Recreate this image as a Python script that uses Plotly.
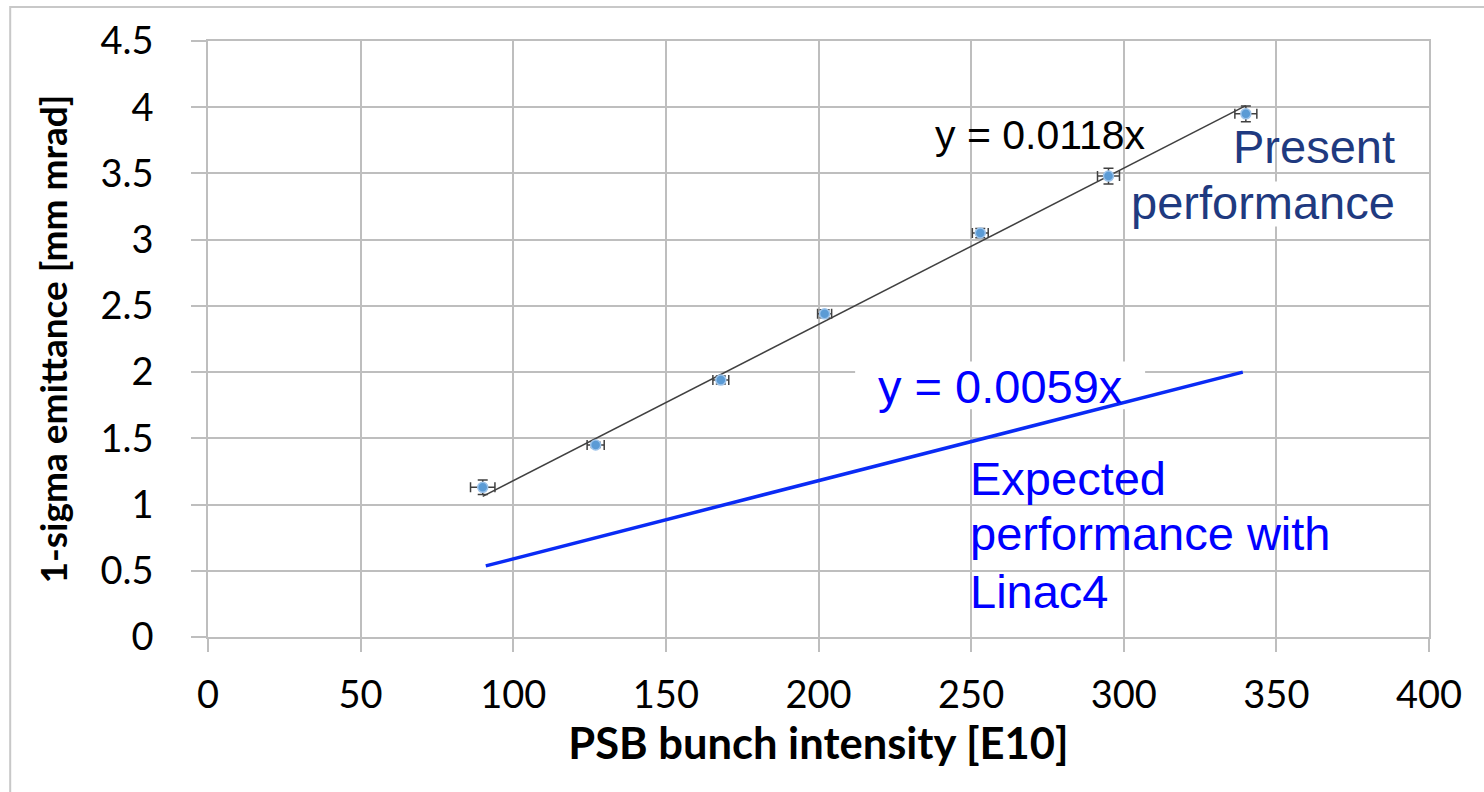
import plotly.graph_objects as go

# Measured points: PSB bunch intensity [E10] vs 1-sigma emittance [mm mrad]
intensity = [90, 127, 168, 202, 253, 295, 340]
emittance = [1.13, 1.45, 1.94, 2.44, 3.05, 3.48, 3.95]
intensity_err = [4.0, 2.8, 2.6, 2.3, 2.6, 3.6, 3.6]
emittance_err = [0.055, 0.02, 0.03, 0.03, 0.035, 0.06, 0.06]

# Linear fits through the origin
present_slope = 0.0118
present_range = [90, 340]
expected_slope = 0.0059
expected_range = [91, 339]

x_ticks = [0, 50, 100, 150, 200, 250, 300, 350, 400]
y_ticks = [0, 0.5, 1, 1.5, 2, 2.5, 3, 3.5, 4, 4.5]
y_tick_text = ["0", "0.5", "1", "1.5", "2", "2.5", "3", "3.5", "4", "4.5"]

GRID = "#BEBEBE"
TICK_FONT = dict(family="Lato, Carlito, sans-serif", size=38, color="#000000")
XTITLE_FONT = dict(family="Lato, Carlito, sans-serif", size=43.5, color="#000000", weight="bold")
YTITLE_FONT = dict(family="Lato, Carlito, sans-serif", size=37, color="#000000", weight="bold")
TEXT_FAMILY = "Liberation Sans, Arial, sans-serif"

fig = go.Figure()

# Present-performance fit line
fig.add_trace(go.Scatter(
    x=present_range,
    y=[present_slope * v for v in present_range],
    mode="lines",
    line=dict(color="#404040", width=1.5),
    hoverinfo="skip",
    showlegend=False,
))

# Expected performance with Linac4
fig.add_trace(go.Scatter(
    x=expected_range,
    y=[expected_slope * v for v in expected_range],
    mode="lines",
    line=dict(color="#0A2BF5", width=3.5),
    hoverinfo="skip",
    showlegend=False,
))

# Measurements with error bars
fig.add_trace(go.Scatter(
    x=intensity,
    y=emittance,
    mode="markers",
    marker=dict(size=10, color="#5B9BD5", line=dict(color="#9CC3EA", width=1.5)),
    error_x=dict(type="data", array=intensity_err, color="#404040", thickness=1.5, width=5),
    error_y=dict(type="data", array=emittance_err, color="#404040", thickness=1.5, width=5),
    showlegend=False,
))

annotations = [
    dict(x=237.5, y=3.79, text="y = 0.0118x", xanchor="left", yanchor="middle",
         font=dict(family=TEXT_FAMILY, size=41, color="#000000")),
    dict(x=259.5, y=1.895, text="y = 0.0059x", xanchor="center", yanchor="middle",
         font=dict(family=TEXT_FAMILY, size=47, color="#0000FF")),
    dict(x=389.5, y=3.70, text="Present", xanchor="right", yanchor="middle",
         font=dict(family=TEXT_FAMILY, size=47, color="#1F3A80")),
    dict(x=389.5, y=3.28, text="performance", xanchor="right", yanchor="middle",
         font=dict(family=TEXT_FAMILY, size=47, color="#1F3A80")),
    dict(x=249, y=1.20, text="Expected", xanchor="left", yanchor="middle",
         font=dict(family=TEXT_FAMILY, size=47, color="#0000FF")),
    dict(x=249, y=0.785, text="performance with", xanchor="left", yanchor="middle",
         font=dict(family=TEXT_FAMILY, size=47, color="#0000FF")),
    dict(x=249, y=0.34, text="Linac4", xanchor="left", yanchor="middle",
         font=dict(family=TEXT_FAMILY, size=47, color="#0000FF")),
]
for a in annotations:
    a.update(xref="x", yref="y", showarrow=False)

shapes = [
    # outer frame around the chart
    dict(type="rect", xref="paper", yref="paper",
         x0=-0.162, x1=1.2, y0=-0.4, y1=1.057,
         line=dict(color="#C8C8C8", width=2), layer="below"),
    # white boxes behind the fit labels, under the traces
    dict(type="rect", xref="x", yref="y", x0=212, x1=307, y0=1.72, y1=2.08,
         fillcolor="#FFFFFF", line=dict(width=0), layer="between"),
    dict(type="rect", xref="x", yref="y", x0=301, x1=392, y0=3.1, y1=3.44,
         fillcolor="#FFFFFF", line=dict(width=0), layer="between"),
]

fig.update_layout(
    width=1484,
    height=792,
    margin=dict(l=208, r=55, t=41, b=155),
    paper_bgcolor="#FFFFFF",
    plot_bgcolor="#FFFFFF",
    annotations=annotations,
    shapes=shapes,
    xaxis=dict(
        range=[0, 400], tickvals=x_ticks, ticktext=[str(v) for v in x_ticks],
        showgrid=True, gridcolor=GRID, gridwidth=1.5,
        showline=True, linecolor=GRID, linewidth=1.5, mirror=True,
        zeroline=False, ticks="outside", ticklen=13, tickcolor=GRID, tickwidth=1.5,
        tickfont=TICK_FONT, ticklabelstandoff=11,
        title=dict(text="PSB bunch intensity [E10]", font=XTITLE_FONT, standoff=13),
    ),
    yaxis=dict(
        range=[0, 4.5], tickvals=y_ticks, ticktext=y_tick_text,
        showgrid=True, gridcolor=GRID, gridwidth=1.5,
        showline=True, linecolor=GRID, linewidth=1.5, mirror=True,
        zeroline=False, ticks="outside", ticklen=15, tickcolor=GRID, tickwidth=1.5,
        tickfont=TICK_FONT, ticklabelstandoff=30,
        title=dict(text="1-sigma emittance [mm mrad]", font=YTITLE_FONT, standoff=22),
    ),
)

fig.write_html("out.html")
